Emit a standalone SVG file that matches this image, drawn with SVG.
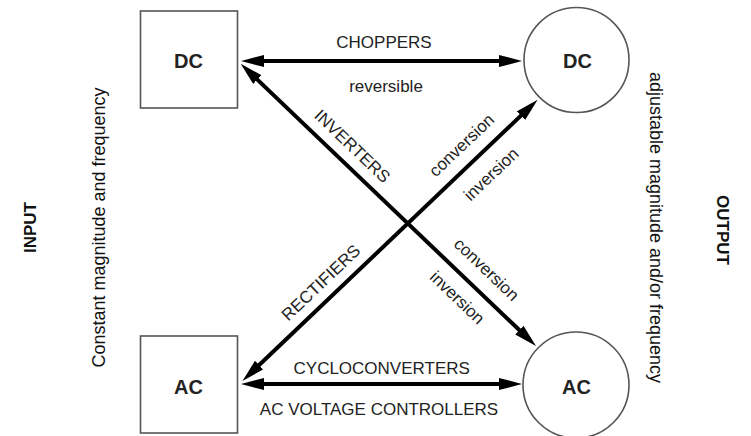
<svg xmlns="http://www.w3.org/2000/svg" width="751" height="436" viewBox="0 0 751 436">
<style>
.box{fill:#fff;stroke:#555;stroke-width:1.6}
.node{font-family:"Liberation Sans",Arial,sans-serif;font-size:20px;font-weight:bold;fill:#222;text-anchor:middle}
.lbl{font-family:"Liberation Sans",Arial,sans-serif;font-size:17px;fill:#222;text-anchor:middle}
.side{font-family:"Liberation Sans",Arial,sans-serif;font-size:18px;fill:#111;text-anchor:middle}
.sideb{font-family:"Liberation Sans",Arial,sans-serif;font-size:17px;font-weight:bold;fill:#111;text-anchor:middle}
.conn{stroke:#000;stroke-width:4;fill:none;marker-start:url(#ah);marker-end:url(#ah)}
</style>
<defs>
<marker id="ah" markerUnits="userSpaceOnUse" viewBox="0 -6 23 12" refX="1" refY="0" markerWidth="23" markerHeight="12" orient="auto-start-reverse">
<path d="M0,-6 L23,0 L0,6 z" fill="#000"/>
</marker>
</defs>
<rect width="751" height="436" fill="#fff"/>
<g id="connectors">
<line class="conn" x1="263" y1="61" x2="500" y2="61"/>
<line class="conn" x1="263" y1="384" x2="500" y2="384"/>
<line class="conn" x1="256.6" y1="78.9" x2="520.1" y2="330.8"/>
<line class="conn" x1="258.4" y1="365.8" x2="521.7" y2="114.9"/>
</g>
<g id="node-dc-in">
<rect class="box" x="140.5" y="11" width="97" height="97"/>
<text class="node" x="188.5" y="68">DC</text>
</g>
<g id="node-ac-in">
<rect class="box" x="140.5" y="336" width="97" height="97"/>
<text class="node" x="188.5" y="394">AC</text>
</g>
<g id="node-dc-out">
<circle class="box" cx="576.5" cy="60" r="52.5"/>
<text class="node" x="577.5" y="68">DC</text>
</g>
<g id="node-ac-out">
<circle class="box" cx="576" cy="385" r="53"/>
<text class="node" x="576.5" y="394">AC</text>
</g>
<g id="labels">
<text class="lbl" x="384" y="48">CHOPPERS</text>
<text class="lbl" x="386" y="91.5">reversible</text>
<text class="lbl" x="381.7" y="374">CYCLOCONVERTERS</text>
<text class="lbl" x="379" y="415">AC VOLTAGE CONTROLLERS</text>
<text class="lbl" transform="translate(352.5,146) rotate(43.7)" y="6">INVERTERS</text>
<text class="lbl" transform="translate(461.5,145) rotate(-43.6)" y="6">conversion</text>
<text class="lbl" transform="translate(491,174) rotate(-43.6)" y="6">inversion</text>
<text class="lbl" transform="translate(320.8,282.5) rotate(-43.6)" y="6">RECTIFIERS</text>
<text class="lbl" transform="translate(486.7,269.2) rotate(43.7)" y="6">conversion</text>
<text class="lbl" transform="translate(457.5,297.5) rotate(43.7)" y="6">inversion</text>
</g>
<g id="side-texts">
<text class="sideb" transform="translate(36,227.5) rotate(-90)">INPUT</text>
<text class="side" transform="translate(104.5,227.5) rotate(-90)">Constant magnitude and frequency</text>
<text class="sideb" transform="translate(716.7,230) rotate(90)">OUTPUT</text>
<text class="side" transform="translate(650,227.5) rotate(90)">adjustable magnitude and/or frequency</text>
</g>
</svg>
